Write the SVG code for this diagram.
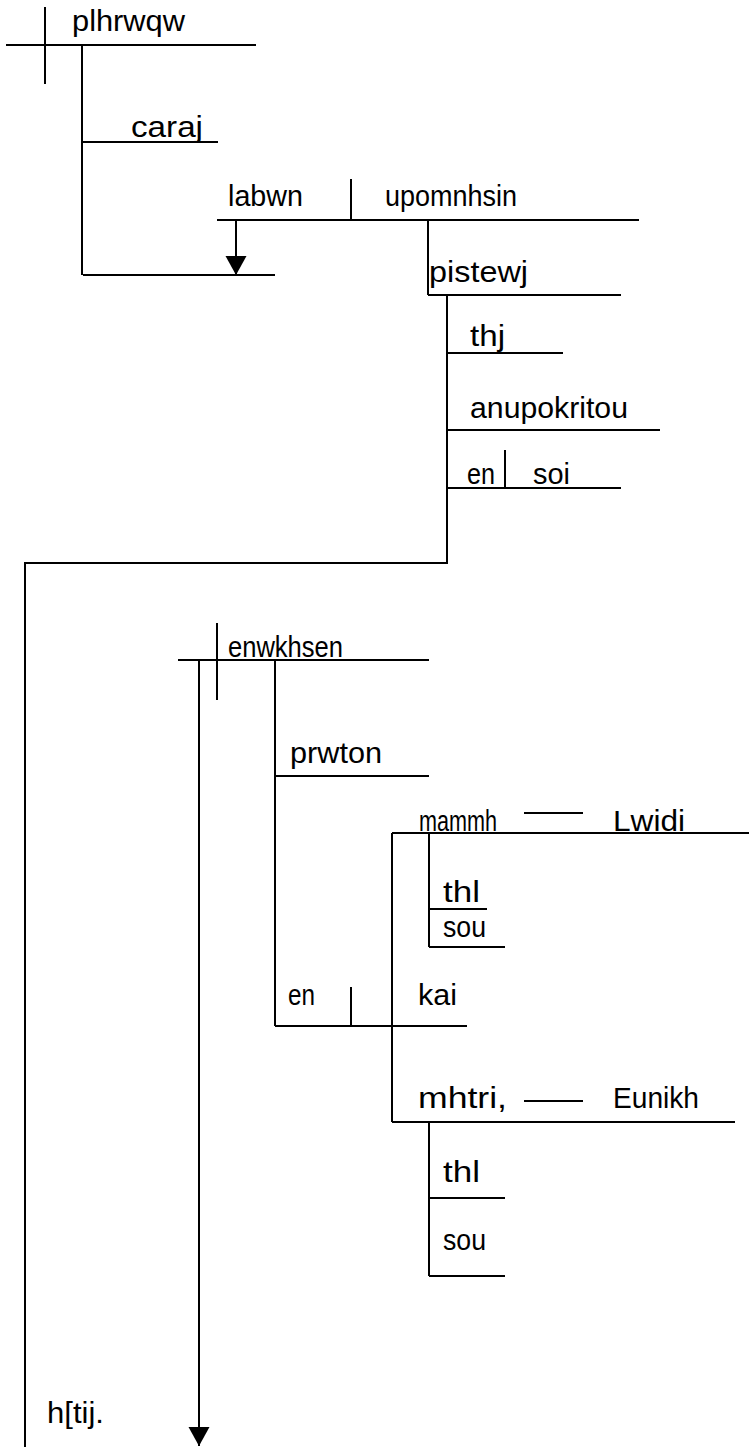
<svg xmlns="http://www.w3.org/2000/svg" width="749" height="1447" viewBox="0 0 749 1447">
<defs>
<style>
line,polyline{stroke:#000;stroke-width:2;fill:none}
text{font-family:"Liberation Sans Narrow","Liberation Sans",Arial,sans-serif;font-size:29px;fill:#000}
</style>
<marker id="ah" markerWidth="22" markerHeight="22" refX="19" refY="10.5" orient="auto" markerUnits="userSpaceOnUse">
<path d="M0,0 L19,10.5 L0,21 Z" fill="#000"/>
</marker>
</defs>
<rect width="749" height="1447" fill="#fff"/>
<g id="connectors">
<polyline points="82,45 82,275"/>
<line x1="236" y1="220" x2="236" y2="275" marker-end="url(#ah)"/>
<line x1="428" y1="220" x2="428" y2="295"/>
<polyline points="447,295 447,563 25,563 25,1447"/>
<line x1="199" y1="660" x2="199" y2="1446" marker-end="url(#ah)"/>
<line x1="275" y1="660" x2="275" y2="1026"/>
<line x1="392" y1="833" x2="392" y2="1122"/>
<line x1="429" y1="833" x2="429" y2="947"/>
<line x1="429" y1="1122" x2="429" y2="1276"/>
</g>
<g id="n-plhrwqw">
<line x1="6" y1="45" x2="256" y2="45"/>
<line x1="45" y1="7" x2="45" y2="84"/>
<text x="72" y="31" textLength="113" lengthAdjust="spacingAndGlyphs">plhrwqw</text>
</g>
<g id="n-caraj">
<line x1="83" y1="142" x2="218" y2="142"/>
<text x="131" y="137" textLength="72" lengthAdjust="spacingAndGlyphs">caraj</text>
</g>
<g id="n-labwn">
<line x1="217" y1="220" x2="639" y2="220"/>
<line x1="351" y1="179" x2="351" y2="220"/>
<text x="228" y="206" textLength="75" lengthAdjust="spacingAndGlyphs">labwn</text>
<text x="385" y="206" textLength="132" lengthAdjust="spacingAndGlyphs">upomnhsin</text>
</g>
<g id="n-empty">
<line x1="83" y1="275" x2="275" y2="275"/>
</g>
<g id="n-pistewj">
<line x1="428" y1="295" x2="621" y2="295"/>
<text x="429" y="282" textLength="99" lengthAdjust="spacingAndGlyphs">pistewj</text>
</g>
<g id="n-thj">
<line x1="447" y1="353" x2="563" y2="353"/>
<text x="470" y="346" textLength="35" lengthAdjust="spacingAndGlyphs">thj</text>
</g>
<g id="n-anupokritou">
<line x1="447" y1="430" x2="660" y2="430"/>
<text x="470" y="418" textLength="158" lengthAdjust="spacingAndGlyphs">anupokritou</text>
</g>
<g id="n-en-soi">
<line x1="447" y1="488" x2="621" y2="488"/>
<line x1="505" y1="450" x2="505" y2="488"/>
<text x="467" y="484" textLength="28" lengthAdjust="spacingAndGlyphs">en</text>
<text x="533" y="484" textLength="37" lengthAdjust="spacingAndGlyphs">soi</text>
</g>
<g id="n-enwkhsen">
<line x1="178" y1="660" x2="429" y2="660"/>
<line x1="217" y1="623" x2="217" y2="700"/>
<text x="228" y="657" textLength="115" lengthAdjust="spacingAndGlyphs">enwkhsen</text>
</g>
<g id="n-prwton">
<line x1="275" y1="776" x2="429" y2="776"/>
<text x="290" y="763" textLength="92" lengthAdjust="spacingAndGlyphs">prwton</text>
</g>
<g id="n-mammh">
<line x1="392" y1="833" x2="749" y2="833"/>
<line x1="524" y1="813" x2="583" y2="813"/>
<text x="419" y="831" textLength="78" lengthAdjust="spacingAndGlyphs">mammh</text>
<text x="613" y="831" textLength="72" lengthAdjust="spacingAndGlyphs">Lwidi</text>
</g>
<g id="n-thl-1">
<line x1="429" y1="909" x2="487" y2="909"/>
<text x="443" y="902" textLength="37" lengthAdjust="spacingAndGlyphs">thl</text>
</g>
<g id="n-sou-1">
<line x1="429" y1="947" x2="505" y2="947"/>
<text x="443" y="937" textLength="43" lengthAdjust="spacingAndGlyphs">sou</text>
</g>
<g id="n-en-kai">
<line x1="275" y1="1026" x2="467" y2="1026"/>
<line x1="351" y1="987" x2="351" y2="1026"/>
<text x="288" y="1005" textLength="27" lengthAdjust="spacingAndGlyphs">en</text>
<text x="418" y="1005" textLength="39" lengthAdjust="spacingAndGlyphs">kai</text>
</g>
<g id="n-mhtri">
<line x1="392" y1="1122" x2="735" y2="1122"/>
<line x1="524" y1="1101" x2="583" y2="1101"/>
<text x="418" y="1108" textLength="89" lengthAdjust="spacingAndGlyphs">mhtri,</text>
<text x="613" y="1108" textLength="86" lengthAdjust="spacingAndGlyphs">Eunikh</text>
</g>
<g id="n-thl-2">
<line x1="429" y1="1198" x2="505" y2="1198"/>
<text x="443" y="1182" textLength="37" lengthAdjust="spacingAndGlyphs">thl</text>
</g>
<g id="n-sou-2">
<line x1="429" y1="1276" x2="505" y2="1276"/>
<text x="443" y="1250" textLength="43" lengthAdjust="spacingAndGlyphs">sou</text>
</g>
<g id="n-htij">
<text x="47" y="1423" textLength="57" lengthAdjust="spacingAndGlyphs">h[tij.</text>
</g>
</svg>
